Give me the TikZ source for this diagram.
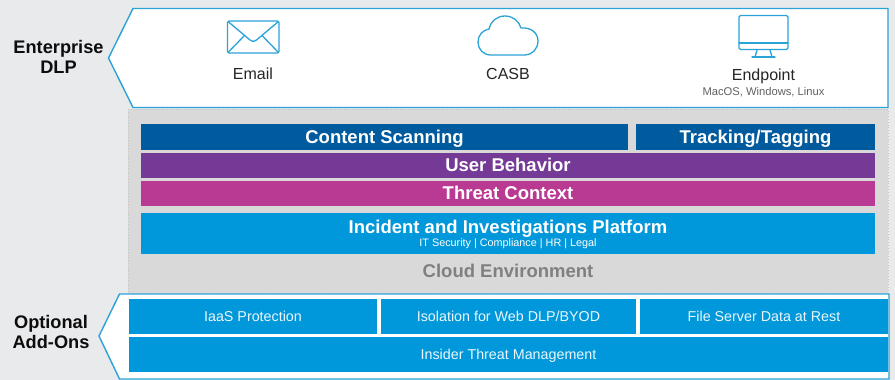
\documentclass[tikz,border=0pt]{standalone}
\usepackage{fontspec}
\setmainfont{Liberation Sans}
\definecolor{pagebg}{HTML}{E9EAEC}
\definecolor{cloudbg}{HTML}{D9D9D9}
\definecolor{lineblue}{HTML}{2AA3D8}
\definecolor{skyblue}{HTML}{0098DA}
\definecolor{navy}{HTML}{005A9E}
\definecolor{plum}{HTML}{743A95}
\definecolor{magent}{HTML}{B93A92}
\tikzset{
  x=1pt,y=-1pt,
  band/.style={draw=lineblue,fill=white,line width=1.4pt,line join=miter},
  icon/.style={draw=lineblue,line width=1.3pt,line join=round,line cap=round},
  bar/.style={draw=none,inner sep=0pt,outer sep=0pt,text=white,font=\bfseries\fontsize{18.5}{20}\selectfont,align=center,text height=13.2pt,text depth=0pt},
  addon/.style={draw=none,fill=skyblue,inner sep=0pt,outer sep=0pt,text=white!92!skyblue,font=\fontsize{14.3}{16}\selectfont,text height=10.3pt,text depth=0pt},
  headl/.style={font=\bfseries\fontsize{18.2}{20}\selectfont,align=center,text=black!95},
  chan/.style={font=\fontsize{16}{18}\selectfont,text=black!85,text height=11.5pt,text depth=0pt},
}
\newcommand{\barbox}[7]{\node[bar,fill=#6,minimum width=#3-#2,minimum height=#5-#4,anchor=north west] (#1) at (#2,#4) {#7};}
\begin{document}
\begin{tikzpicture}
\useasboundingbox (0,0) rectangle (895,380);
\fill[pagebg] (0,0) rectangle (895,380);
% cloud environment
\draw[cloudbg!90!black,fill=cloudbg,line width=0.8pt,dotted] (128,109) rectangle (888,293);
% top band
\draw[band] (108.5,58) -- (133,8.5) -- (888,8.5) -- (888,107.5) -- (133,107.5) -- cycle;
% email icon
\draw[icon,rounded corners=1.5pt] (227.5,21) rectangle (279,53);
\draw[icon] (228,21.5) -- (250,40) .. controls (252,42) and (254.5,42) .. (256.5,40) -- (278.5,21.5);
\draw[icon] (228,52.5) -- (244.5,35.5);
\draw[icon] (278.5,52.5) -- (262,35.5);
\node[chan] (email) at (253,74) {Email};
% cloud icon
\draw[icon] (491,55) .. controls (483,55) and (478,49) .. (478,42)
  .. controls (478,35) and (483,30) .. (489,29)
  .. controls (491,21) and (497,16) .. (505,16)
  .. controls (513,16) and (519,21) .. (521,28)
  .. controls (531,27) and (538,33) .. (538,41)
  .. controls (538,49) and (532,55) .. (525,55) -- cycle;
\node[chan] (casb) at (508,74) {CASB};
% monitor icon
\draw[icon,rounded corners=1.5pt] (739,15.5) rectangle (788,49.5);
\draw[icon] (739,43) -- (788,43);
\draw[icon] (757,50) -- (755,57);
\draw[icon] (770,50) -- (772,57);
\draw[icon] (752,57) -- (775,57);
\node[chan] (endpoint) at (763.5,74.5) {Endpoint};
\node[font=\fontsize{11.2}{12}\selectfont,text=black!62] (oss) at (763.5,92.5) {MacOS, Windows, Linux};
% labels
\node[headl] (ent) at (58.5,57) {Enterprise\\DLP};
\node[headl] (opt) at (51,332) {Optional\\Add-Ons};
% bars
\barbox{content}{141}{628}{124}{149.5}{navy}{Content Scanning}
\barbox{track}{636}{875}{124}{149.5}{navy}{Tracking/Tagging}
\barbox{user}{141}{875}{153}{177.5}{plum}{User Behavior}
\barbox{threat}{141}{875}{180.5}{206}{magent}{Threat Context}
\node[bar,fill=skyblue,minimum width=734,minimum height=40.5,anchor=north west] (incident) at (141,213) {};
\node[bar] (inctitle) at (508,226.5) {Incident and Investigations Platform};
\node[font=\fontsize{10.8}{12}\selectfont,text=white,text height=7.8pt,text depth=0pt] (incsub) at (508,242.5) {IT Security | Compliance | HR | Legal};
\node[font=\bfseries\fontsize{18.5}{20}\selectfont,text=black!50,text height=13.2pt,text depth=0pt] (cloudenv) at (508,271) {Cloud Environment};
% bottom band
\draw[band] (99,336) -- (119.5,294) -- (889,294) -- (889,379) -- (119.5,379) -- cycle;
\node[addon,minimum width=248,minimum height=34.5,anchor=north west] (iaas) at (129,299) {IaaS Protection};
\node[addon,minimum width=255,minimum height=34.5,anchor=north west] (iso) at (381,299) {Isolation for Web DLP/BYOD};
\node[addon,minimum width=248,minimum height=34.5,anchor=north west] (file) at (640,299) {File Server Data at Rest};
\node[addon,minimum width=759,minimum height=34.5,anchor=north west] (insider) at (129,337) {Insider Threat Management};
\end{tikzpicture}
\end{document}
